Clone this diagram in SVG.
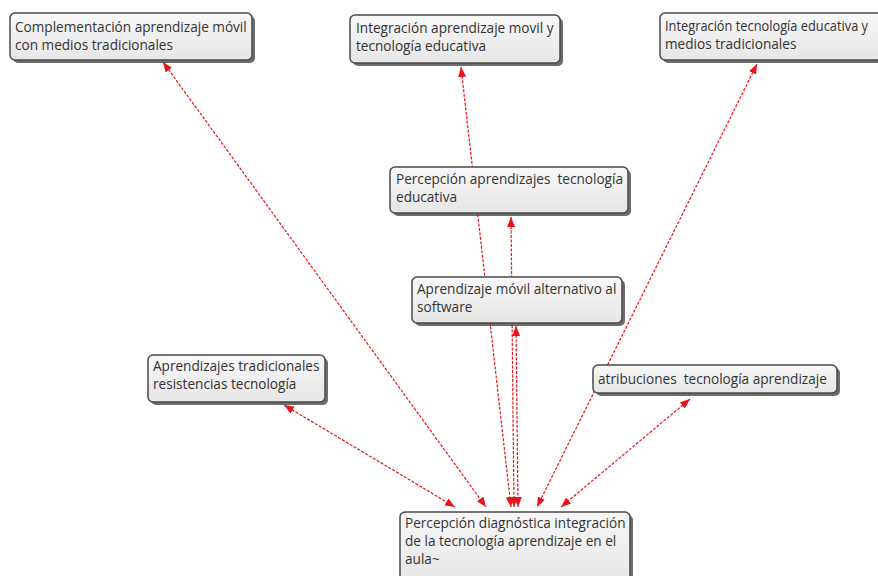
<svg xmlns="http://www.w3.org/2000/svg" width="878" height="576" viewBox="0 0 878 576">
<defs>
<linearGradient id="g" x1="0" y1="0" x2="0" y2="1">
<stop offset="0" stop-color="#f8f8f8"/>
<stop offset="1" stop-color="#e6e6e6"/>
</linearGradient>
<marker id="ah" viewBox="0 0 10 8" refX="10" refY="4" markerWidth="10" markerHeight="8" markerUnits="userSpaceOnUse" orient="auto-start-reverse">
<path d="M0,0 L10,4 L0,8 z" fill="#e8141b"/>
</marker>
<style>
.box{fill:url(#g);stroke:#4a4a4a;stroke-width:1.5}
.sh{fill:#3c3c3c;opacity:0.75}
.t{font-family:"Open Sans","Noto Sans","DejaVu Sans",sans-serif;font-size:13.6px;fill:#333}
.c{fill:none;stroke:#e8141b;stroke-width:1.2;stroke-dasharray:3 1.5;marker-start:url(#ah);marker-end:url(#ah)}
</style>
</defs>
<rect width="878" height="576" fill="#fff"/>
<g id="connectors">
<line class="c" x1="163" y1="62" x2="486" y2="507"/>
<line class="c" x1="461" y1="67" x2="511" y2="507"/>
<line class="c" x1="757" y1="64" x2="537" y2="507"/>
<line class="c" x1="511" y1="217" x2="514" y2="507"/>
<line class="c" x1="516" y1="326" x2="518" y2="507"/>
<line class="c" x1="284" y1="405" x2="455" y2="507"/>
<line class="c" x1="690" y1="399" x2="561" y2="507"/>
</g>
<g id="n1">
<rect class="sh" x="13" y="16" width="242" height="47" rx="5"/>
<rect class="box" x="10" y="13" width="242" height="47" rx="5"/>
<text class="t" x="15" y="32">Complementación aprendizaje móvil</text>
<text class="t" x="15" y="50">con medios tradicionales</text>
</g>
<g id="n2">
<rect class="sh" x="353" y="18" width="210" height="48" rx="5"/>
<rect class="box" x="350" y="15" width="210" height="48" rx="5"/>
<text class="t" x="356" y="33">Integración aprendizaje movil y</text>
<text class="t" x="356" y="51">tecnología educativa</text>
</g>
<g id="n3">
<rect class="sh" x="663" y="16" width="240" height="47" rx="5"/>
<rect class="box" x="660" y="13" width="240" height="47" rx="5"/>
<text class="t" x="665" y="31" textLength="203" lengthAdjust="spacingAndGlyphs">Integración tecnología educativa y</text>
<text class="t" x="665" y="49">medios tradicionales</text>
</g>
<g id="n4">
<rect class="sh" x="393" y="170" width="238" height="46" rx="5"/>
<rect class="box" x="390" y="167" width="238" height="46" rx="5"/>
<text class="t" x="396" y="184" xml:space="preserve">Percepción aprendizajes  tecnología</text>
<text class="t" x="396" y="202">educativa</text>
</g>
<g id="n5">
<rect class="sh" x="415" y="280" width="210" height="46" rx="5"/>
<rect class="box" x="412" y="277" width="210" height="46" rx="5"/>
<text class="t" x="417" y="294">Aprendizaje móvil alternativo al</text>
<text class="t" x="417" y="312">software</text>
</g>
<g id="n6">
<rect class="sh" x="151" y="358" width="177" height="47" rx="5"/>
<rect class="box" x="148" y="355" width="177" height="47" rx="5"/>
<text class="t" x="153" y="371">Aprendizajes tradicionales</text>
<text class="t" x="153" y="389">resistencias tecnología</text>
</g>
<g id="n7">
<rect class="sh" x="596" y="368" width="244" height="28" rx="5"/>
<rect class="box" x="593" y="365" width="244" height="28" rx="5"/>
<text class="t" x="598" y="384" xml:space="preserve">atribuciones  tecnología aprendizaje</text>
</g>
<g id="n8">
<rect class="sh" x="403" y="515" width="230" height="70" rx="5"/>
<rect class="box" x="400" y="512" width="230" height="70" rx="5"/>
<text class="t" x="405" y="528">Percepción diagnóstica integración</text>
<text class="t" x="405" y="546">de la tecnología aprendizaje en el</text>
<text class="t" x="405" y="564">aula~</text>
</g>
</svg>
